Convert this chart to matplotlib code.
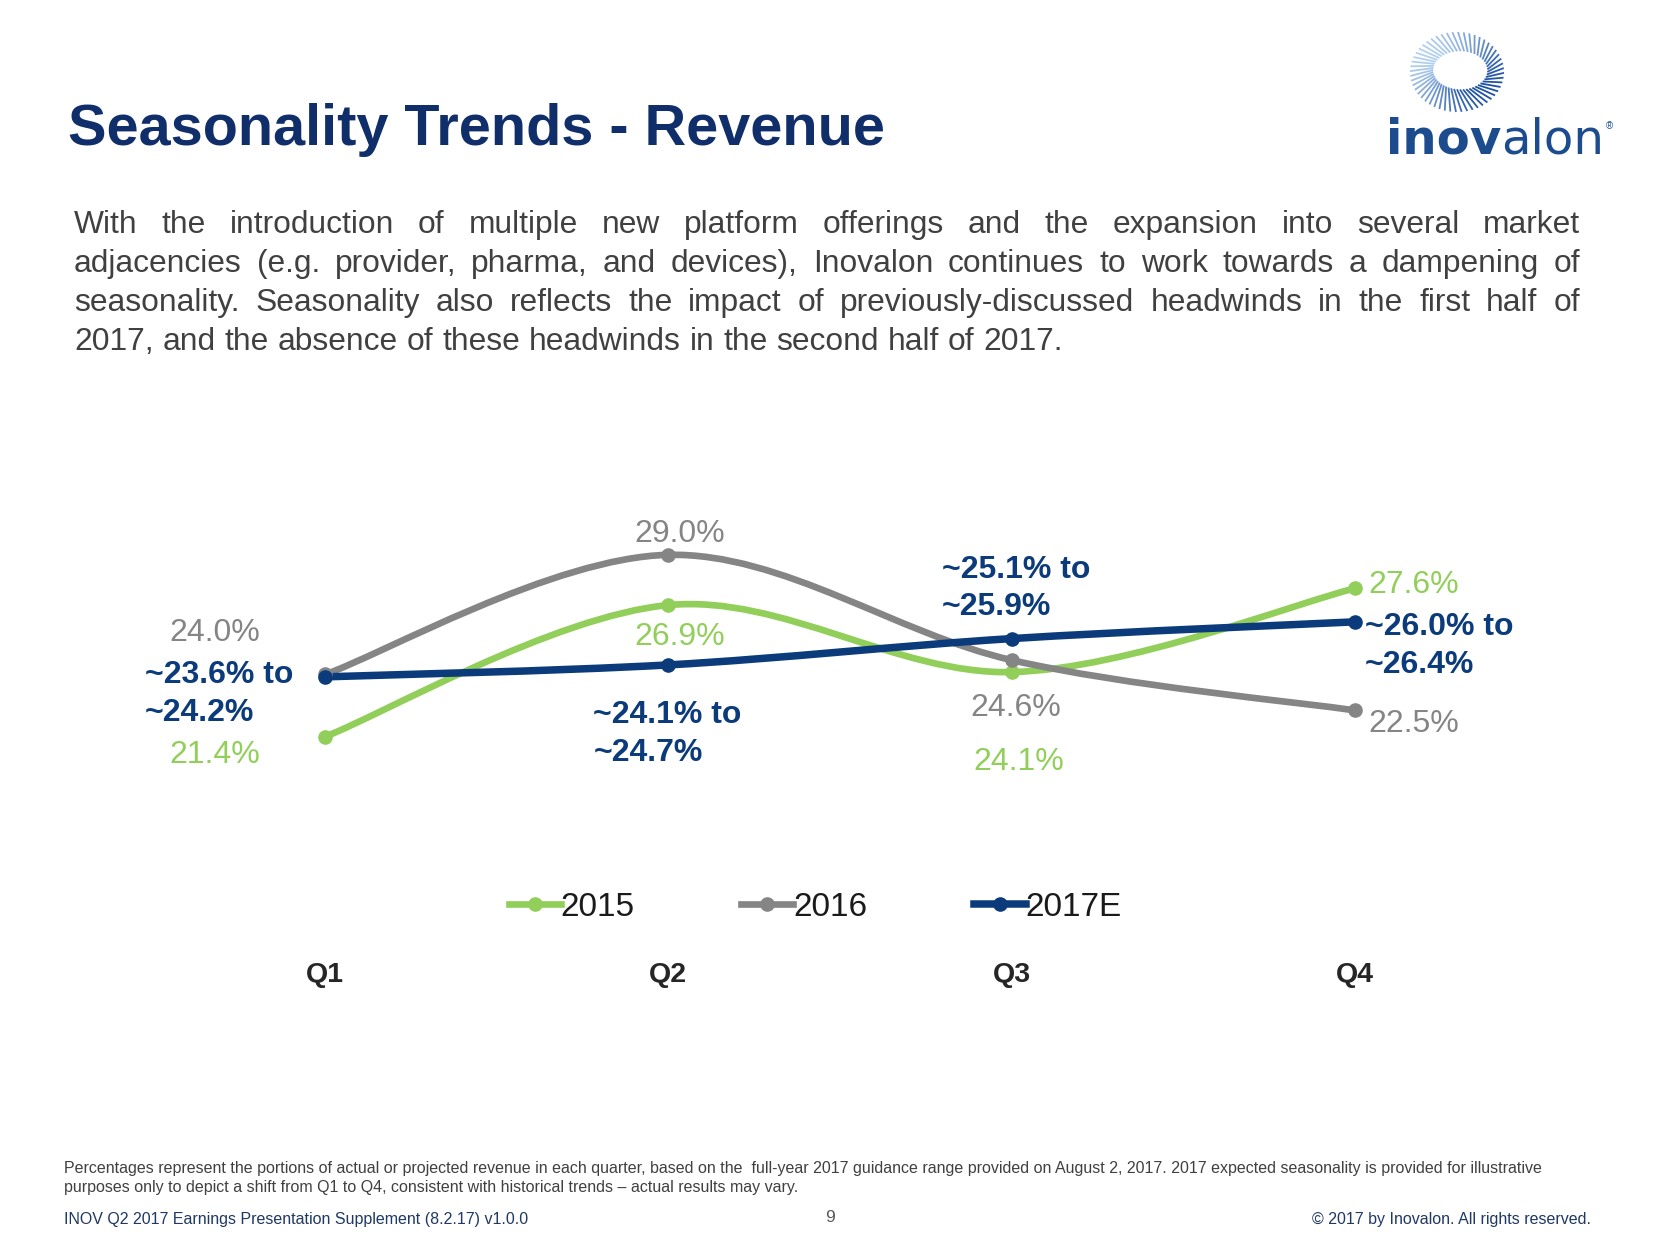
import numpy as np
import matplotlib
matplotlib.use("Agg")
import matplotlib.pyplot as plt
from matplotlib.path import Path
from matplotlib.patches import PathPatch
from matplotlib.lines import Line2D
from matplotlib import transforms, font_manager

# ---------------- data ----------------
quarters = ["Q1", "Q2", "Q3", "Q4"]
series_names = ["2015", "2016", "2017E"]
rev_2015 = [21.4, 26.9, 24.1, 27.6]
rev_2016 = [24.0, 29.0, 24.6, 22.5]
rev_2017_low = [23.6, 24.1, 25.1, 26.0]
rev_2017_high = [24.2, 24.7, 25.9, 26.4]

title = "Seasonality Trends - Revenue"
paragraph = [
    "With the introduction of multiple new platform offerings and the expansion into several market",
    "adjacencies (e.g. provider, pharma, and devices), Inovalon continues to work towards a dampening of",
    "seasonality. Seasonality also reflects the impact of previously-discussed headwinds in the first half of",
    "2017, and the absence of these headwinds in the second half of 2017.",
]
footnote = [
    "Percentages represent the portions of actual or projected revenue in each quarter, based on the  full-year 2017 guidance range provided on August 2, 2017. 2017 expected seasonality is provided for illustrative",
    "purposes only to depict a shift from Q1 to Q4, consistent with historical trends \u2013 actual results may vary.",
]
footer_left = "INOV Q2 2017 Earnings Presentation Supplement (8.2.17) v1.0.0"
footer_mid = "9"
footer_right = "\u00a9 2017 by Inovalon. All rights reserved."

# ---------------- style ----------------
GREEN = "#92CF5A"
GRAY = "#858585"
NAVY = "#0B3B7A"
TITLE_C = "#102F6A"
TEXT_C = "#404040"
LOGO_C = "#1C4C8E"

names = {f.name for f in font_manager.fontManager.ttflist}
BASE = "Liberation Sans" if "Liberation Sans" in names else "DejaVu Sans"
NARROW = "Liberation Sans Narrow" if "Liberation Sans Narrow" in names else BASE
plt.rcParams["font.family"] = [BASE, "DejaVu Sans"]

W, H = 1660, 1246
fig = plt.figure(figsize=(W / 100, H / 100), dpi=100)
fig.patch.set_facecolor("white")
renderer = fig.canvas.get_renderer()


def fx(x):
    return x / W


def fy(y):
    return 1 - y / H


def width_of(t):
    return t.get_window_extent(renderer=renderer).width


# ---------------- chart axes ----------------
ax = fig.add_axes([153.3 / W, 1 - 770.2 / H, 1373.4 / W, 239.3 / H])
ax.set_xlim(-0.5, 3.5)
ax.set_ylim(20, 30)
ax.axis("off")

xs = np.arange(len(quarters))
rev_2017_mid = [(a + b) / 2 for a, b in zip(rev_2017_low, rev_2017_high)]


def smooth_path(x, y):
    pts = np.column_stack([x, y]).astype(float)
    n = len(pts)
    verts = [pts[0]]
    codes = [Path.MOVETO]
    for i in range(n - 1):
        p0 = pts[max(i - 1, 0)]
        p1 = pts[i]
        p2 = pts[i + 1]
        p3 = pts[min(i + 2, n - 1)]
        c1 = p1 + (p2 - p0) / 6.0
        c2 = p2 - (p3 - p1) / 6.0
        verts += [c1, c2, p2]
        codes += [Path.CURVE4] * 3
    return Path(verts, codes)


series = [(rev_2015, GREEN, 4.8), (rev_2016, GRAY, 4.8), (rev_2017_mid, NAVY, 5.4)]
for vals, col, lw in series:
    ax.add_patch(PathPatch(smooth_path(xs, vals), facecolor="none", edgecolor=col,
                           lw=lw, capstyle="round", joinstyle="round", zorder=2))
    ax.plot(xs, vals, linestyle="none", marker="o", markersize=9.5, color=col, zorder=3)

LBL = 23


def lab(i, v, text, dx, dy, color, ha="center", bold=False, va="center"):
    ax.annotate(text, xy=(xs[i], v), xycoords="data", xytext=(dx, -dy),
                textcoords="offset pixels", ha=ha, va=va, color=color,
                fontsize=LBL, fontweight="bold" if bold else "normal",
                linespacing=1.32, zorder=4)


lab2017 = ["~{:.1f}% to\n~{:.1f}%".format(a, b) for a, b in zip(rev_2017_low, rev_2017_high)]
# Q1
lab(0, rev_2016[0], f"{rev_2016[0]:.1f}%", -110, -41, GRAY)
lab(0, rev_2017_mid[0], lab2017[0], -180, 17, NAVY, ha="left", bold=True)
lab(0, rev_2015[0], f"{rev_2015[0]:.1f}%", -110, 18, GREEN)
# Q2
lab(1, rev_2016[1], f"{rev_2016[1]:.1f}%", 11, -21, GRAY)
lab(1, rev_2015[1], f"{rev_2015[1]:.1f}%", 11, 32, GREEN)
lab(1, rev_2017_mid[1], lab2017[1], -75, 69, NAVY, ha="left", bold=True)
# Q3
lab(2, rev_2017_mid[2], lab2017[2], -70, -50, NAVY, ha="left", bold=True)
lab(2, rev_2016[2], f"{rev_2016[2]:.1f}%", 4, 48, GRAY)
lab(2, rev_2015[2], f"{rev_2015[2]:.1f}%", 7, 90, GREEN)
# Q4
lab(3, rev_2015[3], f"{rev_2015[3]:.1f}%", 13, -3, GREEN, ha="left")
lab(3, rev_2017_mid[3], lab2017[3], 10, 24, NAVY, ha="left", bold=True)
lab(3, rev_2016[3], f"{rev_2016[3]:.1f}%", 13, 14, GRAY, ha="left")

# quarter labels
bt = transforms.blended_transform_factory(ax.transData, fig.transFigure)
for i, q in enumerate(quarters):
    ax.text(xs[i], fy(975), q, transform=bt, ha="center", va="center",
            fontsize=20.5, fontweight="bold", color="#262626")

# legend
handles = [Line2D([], [], color=c, lw=lw, marker="o", markersize=9.5)
           for (_, c, lw) in series]
ax.legend(handles, series_names, loc="center left",
          bbox_to_anchor=(fx(509), fy(907)), bbox_transform=fig.transFigure,
          ncol=3, frameon=False, handlelength=1.55, handletextpad=0.0,
          columnspacing=3.2, borderaxespad=0, borderpad=0, fontsize=24,
          labelcolor="#1A1A1A", numpoints=1)

# ---------------- title ----------------
fig.text(fx(68), fy(145), title, ha="left", va="baseline", fontsize=41.5,
         fontweight="bold", color=TITLE_C)

# ---------------- justified paragraph ----------------
left, right = 74, 1580
baselines = [233, 272, 311, 350]


def para_gaps(size):
    out = []
    for line in paragraph[:-1]:
        words = line.split(" ")
        ts = [fig.text(0, 0, w, fontsize=size) for w in words]
        ws = [width_of(t) for t in ts]
        for t in ts:
            t.remove()
        out.append((right - left - sum(ws)) / (len(words) - 1))
    sp = fig.text(0, 0, "a a", fontsize=size)
    sa = fig.text(0, 0, "aa", fontsize=size)
    space = width_of(sp) - width_of(sa)
    sp.remove()
    sa.remove()
    return min(out), space


PSZ = 22.9
while True:
    mg, space = para_gaps(PSZ)
    if mg >= 0.9 * space or PSZ < 18:
        break
    PSZ -= 0.1

for li, (line, yb) in enumerate(zip(paragraph, baselines)):
    words = line.split(" ")
    texts = [fig.text(0, fy(yb), w, ha="left", va="baseline", fontsize=PSZ,
                      color=TEXT_C) for w in words]
    widths = [width_of(t) for t in texts]
    if li < len(paragraph) - 1:
        gap = (right - left - sum(widths)) / (len(words) - 1)
    else:
        gap = space
    x = left
    for t, w in zip(texts, widths):
        t.set_x(fx(x))
        x += w + gap

# ---------------- footnotes ----------------
fn1 = fig.text(fx(64), fy(1173), footnote[0], ha="left", va="baseline", fontsize=8,
               color=TEXT_C, family=[NARROW, BASE])
fsz = 8 * (1555 - 64) / width_of(fn1)
fn1.set_fontsize(fsz)
fig.text(fx(64), fy(1192), footnote[1], ha="left", va="baseline", fontsize=fsz,
         color=TEXT_C, family=[NARROW, BASE])
fig.text(fx(64), fy(1224), footer_left, ha="left", va="baseline", fontsize=fsz,
         color="#1F3864", family=[NARROW, BASE])
fig.text(fx(830), fy(1222), footer_mid, ha="center", va="baseline", fontsize=fsz + 1,
         color="#595959", family=[NARROW, BASE])
fig.text(fx(1591), fy(1224), footer_right, ha="right", va="baseline", fontsize=fsz,
         color="#1F3864", family=[NARROW, BASE])

# ---------------- logo ----------------
cx, cy = 1457, 72
n_d = 52
for k in range(n_d):
    th = 2 * np.pi * k / n_d
    r_in_x, r_in_y = 27 + 4 * np.cos(th - 0.6), 19 + 3 * np.cos(th - 0.6)
    r_out_x, r_out_y = 47, 40
    tilt = 0.22
    x0, y0 = cx + r_in_x * np.cos(th), cy - r_in_y * np.sin(th)
    x1, y1 = cx + r_out_x * np.cos(th + tilt), cy - r_out_y * np.sin(th + tilt)
    shade = 0.5 + 0.5 * np.cos(th - 2.4)
    col = (0.12 + 0.58 * shade, 0.32 + 0.50 * shade, 0.64 + 0.30 * shade)
    fig.add_artist(Line2D([fx(x0), fx(x1)], [fy(y0), fy(y1)], transform=fig.transFigure,
                          color=col, lw=1.3, solid_capstyle="butt"))

LOGO_FAM = ["DejaVu Sans"]
t1 = fig.text(fx(1386), fy(153), "inov", ha="left", va="baseline", fontsize=30,
              fontweight="bold", color=LOGO_C, family=LOGO_FAM)
t2 = fig.text(0, fy(153), "alon", ha="left", va="baseline", fontsize=30,
              color=LOGO_C, family=LOGO_FAM)
tot = width_of(t1) + width_of(t2)
lsz = 30 * 218 / tot
t1.set_fontsize(lsz)
t2.set_fontsize(lsz)
t2.set_x(fx(1386 + width_of(t1)))
fig.text(fx(1609), fy(126), "\u00ae", ha="center", va="center", fontsize=7, color=LOGO_C)

fig.savefig("out.png", dpi=100, facecolor="white")
